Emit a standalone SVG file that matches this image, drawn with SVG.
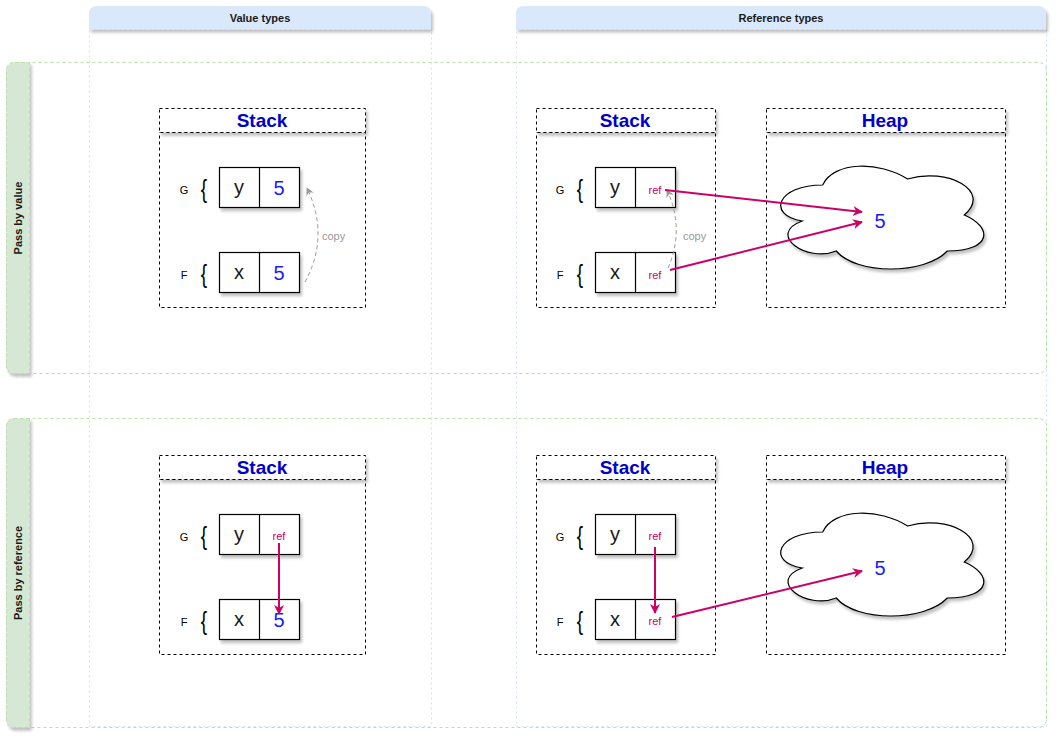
<svg xmlns="http://www.w3.org/2000/svg" width="1057" height="739" viewBox="0 0 1057 739">
<defs>
<filter id="sh" x="-10%" y="-10%" width="130%" height="140%">
<feGaussianBlur in="SourceAlpha" stdDeviation="1.5"/>
<feOffset dx="2" dy="3" result="b"/>
<feComponentTransfer><feFuncA type="linear" slope="0.25"/></feComponentTransfer>
<feMerge><feMergeNode/><feMergeNode in="SourceGraphic"/></feMerge>
</filter>
<marker id="mr" viewBox="0 0 10 10" refX="9" refY="5" markerWidth="5" markerHeight="5" orient="auto" markerUnits="strokeWidth">
<path d="M0 0 L10 5 L0 10 L3 5 Z" fill="#CC0066"/>
</marker>
<marker id="mg" viewBox="0 0 10 10" refX="9" refY="5" markerWidth="8" markerHeight="8" orient="auto" markerUnits="strokeWidth">
<path d="M0 0 L10 5 L0 10 L3 5 Z" fill="#999999"/>
</marker>
<path id="cloud" d="M 55 30 C 11 30 0 60 35.2 66 C 0 79.2 39.6 108 68.2 96 C 88 120 154 120 176 96 C 220 96 220 72 192.5 60 C 220 36 176 12 137.5 24 C 110 6 66 6 55 30 Z"/>
</defs>
<style>
.colhdr{fill:#dae8fc;stroke:none}
.colbody{fill:#ffffff;stroke:#d4e1f5;stroke-width:1;stroke-dasharray:2 3}
.lane{fill:none;stroke:#b9e0a5;stroke-width:1;stroke-dasharray:3 3}
.lanehdr{fill:#d5e8d4;stroke:#b9e0a5;stroke-width:1;stroke-dasharray:3 3}
.hdrtxt{font-family:"Liberation Sans",Arial,sans-serif;font-size:11px;font-weight:bold;fill:#1a1a1a;text-anchor:middle}
.box{fill:#ffffff;stroke:#000;stroke-width:1;stroke-dasharray:3 3}
.title{font-family:"Liberation Sans",Arial,sans-serif;font-size:19px;font-weight:bold;fill:#0000CC;text-anchor:middle}
.cell{fill:#ffffff;stroke:#000;stroke-width:1.2}
.lbl{font-family:"Liberation Sans",Arial,sans-serif;font-size:11px;fill:#000;text-anchor:middle}
.brace{font-family:"Liberation Sans",Arial,sans-serif;font-size:19px;fill:#000;text-anchor:middle}
.var{font-family:"Liberation Sans",Arial,sans-serif;font-size:20px;fill:#1a1a1a;text-anchor:middle}
.five{font-family:"Liberation Sans",Arial,sans-serif;font-size:20px;fill:#1a1aff;text-anchor:middle}
.ref{font-family:"Liberation Sans",Arial,sans-serif;font-size:11px;fill:#CC0066;text-anchor:middle}
.cl{fill:#ffffff;stroke:#000;stroke-width:1.2}
.pink{fill:none;stroke:#CC0066;stroke-width:2;marker-end:url(#mr)}
.copy{fill:none;stroke:#999999;stroke-width:1;stroke-dasharray:4 3;marker-end:url(#mg)}
.copytxt{font-family:"Liberation Sans",Arial,sans-serif;font-size:11px;fill:#999999}
</style>

<g id="col-value">
<rect class="colbody" x="89.5" y="29.5" width="342" height="697"/>
<path class="colhdr" d="M89 29.5 V14 Q89 6 97 6 H423 Q431 6 431 14 V29.5 Z" filter="url(#sh)"/>
<text class="hdrtxt" x="260" y="21.5">Value types</text>
</g>
<g id="col-reference">
<rect class="colbody" x="516.5" y="29.5" width="530" height="697"/>
<path class="colhdr" d="M516 29.5 V14 Q516 6 524 6 H1038 Q1046 6 1046 14 V29.5 Z" filter="url(#sh)"/>
<text class="hdrtxt" x="781" y="21.5">Reference types</text>
</g>

<g id="lane-value">
<rect class="lane" x="6.5" y="62.5" width="1040" height="311" rx="8"/>
<path class="lanehdr" d="M29.5 62.5 V373.5 H14.5 Q6.5 373.5 6.5 365.5 V70.5 Q6.5 62.5 14.5 62.5 Z" filter="url(#sh)"/>
<text class="hdrtxt" transform="translate(22 218) rotate(-90)">Pass by value</text>
</g>
<g id="lane-reference">
<rect class="lane" x="6.5" y="418.5" width="1040" height="309" rx="8"/>
<path class="lanehdr" d="M29.5 418.5 V727.5 H14.5 Q6.5 727.5 6.5 719.5 V426.5 Q6.5 418.5 14.5 418.5 Z" filter="url(#sh)"/>
<text class="hdrtxt" transform="translate(22 573) rotate(-90)">Pass by reference</text>
</g>

<!-- Top-left stack -->
<g id="stack-vv">
<rect class="box" x="159.5" y="132.5" width="206" height="175"/>
<rect class="box" x="159.5" y="108.5" width="206" height="24" filter="url(#sh)"/>
<text class="title" x="262" y="127">Stack</text>
<text class="lbl" x="184" y="194">G</text>
<text class="brace" transform="translate(204 198) scale(1 1.4)">{</text>
<rect class="cell" x="219.5" y="167.5" width="80" height="40" filter="url(#sh)"/>
<line x1="259.5" y1="167.5" x2="259.5" y2="207.5" stroke="#000" stroke-width="1.2"/>
<text class="var" x="239" y="194">y</text>
<text class="five" x="279" y="195">5</text>
<text class="lbl" x="184" y="279">F</text>
<text class="brace" transform="translate(204 283) scale(1 1.4)">{</text>
<rect class="cell" x="219.5" y="252.5" width="80" height="40" filter="url(#sh)"/>
<line x1="259.5" y1="252.5" x2="259.5" y2="292.5" stroke="#000" stroke-width="1.2"/>
<text class="var" x="239" y="279">x</text>
<text class="five" x="279" y="280">5</text>
</g>

<!-- Top-right stack -->
<g id="stack-rv">
<rect class="box" x="536.5" y="132.5" width="179" height="175"/>
<rect class="box" x="536.5" y="108.5" width="179" height="24" filter="url(#sh)"/>
<text class="title" x="625" y="127">Stack</text>
<text class="lbl" x="560" y="194">G</text>
<text class="brace" transform="translate(580 198) scale(1 1.4)">{</text>
<rect class="cell" x="595.5" y="167.5" width="80" height="40" filter="url(#sh)"/>
<line x1="635.5" y1="167.5" x2="635.5" y2="207.5" stroke="#000" stroke-width="1.2"/>
<text class="var" x="615" y="194">y</text>
<text class="ref" x="655" y="194">ref</text>
<text class="lbl" x="560" y="279">F</text>
<text class="brace" transform="translate(580 283) scale(1 1.4)">{</text>
<rect class="cell" x="595.5" y="252.5" width="80" height="40" filter="url(#sh)"/>
<line x1="635.5" y1="252.5" x2="635.5" y2="292.5" stroke="#000" stroke-width="1.2"/>
<text class="var" x="615" y="279">x</text>
<text class="ref" x="655" y="279">ref</text>
</g>
<g id="heap-rv">
<rect class="box" x="766.5" y="132.5" width="239" height="175"/>
<rect class="box" x="766.5" y="108.5" width="239" height="24" filter="url(#sh)"/>
<text class="title" x="885" y="127">Heap</text>
<use href="#cloud" class="cl" transform="translate(766 155) scale(1.03 1.0)" filter="url(#sh)"/>
<text class="five" x="880" y="228">5</text>
</g>

<!-- Bottom-left stack -->
<g id="stack-vr">
<rect class="box" x="159.5" y="479.5" width="206" height="175"/>
<rect class="box" x="159.5" y="455.5" width="206" height="24" filter="url(#sh)"/>
<text class="title" x="262" y="474">Stack</text>
<text class="lbl" x="184" y="541">G</text>
<text class="brace" transform="translate(204 545) scale(1 1.4)">{</text>
<rect class="cell" x="219.5" y="514.5" width="80" height="40" filter="url(#sh)"/>
<line x1="259.5" y1="514.5" x2="259.5" y2="554.5" stroke="#000" stroke-width="1.2"/>
<text class="var" x="239" y="541">y</text>
<text class="ref" x="279" y="540">ref</text>
<text class="lbl" x="184" y="626">F</text>
<text class="brace" transform="translate(204 630) scale(1 1.4)">{</text>
<rect class="cell" x="219.5" y="599.5" width="80" height="40" filter="url(#sh)"/>
<line x1="259.5" y1="599.5" x2="259.5" y2="639.5" stroke="#000" stroke-width="1.2"/>
<text class="var" x="239" y="626">x</text>
<text class="five" x="279" y="627">5</text>
</g>

<!-- Bottom-right stack -->
<g id="stack-rr">
<rect class="box" x="536.5" y="479.5" width="179" height="175"/>
<rect class="box" x="536.5" y="455.5" width="179" height="24" filter="url(#sh)"/>
<text class="title" x="625" y="474">Stack</text>
<text class="lbl" x="560" y="541">G</text>
<text class="brace" transform="translate(580 545) scale(1 1.4)">{</text>
<rect class="cell" x="595.5" y="514.5" width="80" height="40" filter="url(#sh)"/>
<line x1="635.5" y1="514.5" x2="635.5" y2="554.5" stroke="#000" stroke-width="1.2"/>
<text class="var" x="615" y="541">y</text>
<text class="ref" x="655" y="540">ref</text>
<text class="lbl" x="560" y="626">F</text>
<text class="brace" transform="translate(580 630) scale(1 1.4)">{</text>
<rect class="cell" x="595.5" y="599.5" width="80" height="40" filter="url(#sh)"/>
<line x1="635.5" y1="599.5" x2="635.5" y2="639.5" stroke="#000" stroke-width="1.2"/>
<text class="var" x="615" y="626">x</text>
<text class="ref" x="655" y="625">ref</text>
</g>
<g id="heap-rr">
<rect class="box" x="766.5" y="479.5" width="239" height="175"/>
<rect class="box" x="766.5" y="455.5" width="239" height="24" filter="url(#sh)"/>
<text class="title" x="885" y="474">Heap</text>
<use href="#cloud" class="cl" transform="translate(766 502) scale(1.03 1.0)" filter="url(#sh)"/>
<text class="five" x="880" y="575">5</text>
</g>

<g id="connectors">
<path class="copy" d="M305 282 Q330 236 307 188"/>
<text class="copytxt" x="322" y="240">copy</text>
<path class="copy" d="M668 268 Q685 229 667 190"/>
<text class="copytxt" x="683" y="240">copy</text>
<path class="pink" d="M665 190 L862 212"/>
<path class="pink" d="M670 270 L862 222"/>
<path class="pink" d="M279 543 L279 614"/>
<path class="pink" d="M655 547 L655 613"/>
<path class="pink" d="M672 617 L862 571"/>
</g>
</svg>
